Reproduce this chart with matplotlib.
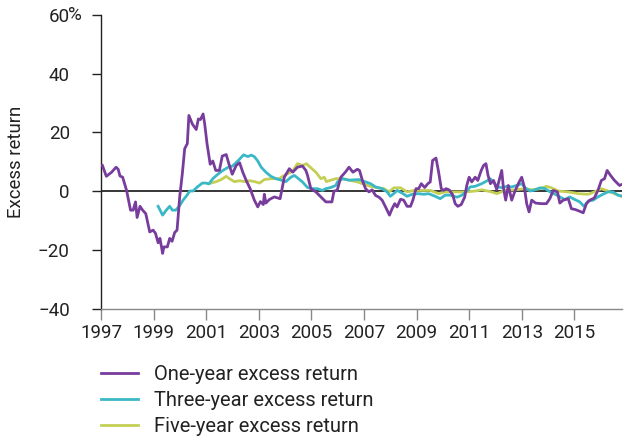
import matplotlib
matplotlib.use("Agg")
import matplotlib.pyplot as plt

plt.rcParams['font.family'] = ['Roboto', 'DejaVu Sans']

# one-year excess return (decimal year, %)
one_year_dates = [1997.05, 1997.2, 1997.4, 1997.57, 1997.65, 1997.72, 1997.82, 1997.97, 1998.12, 1998.22,
                  1998.31, 1998.37, 1998.48, 1998.58, 1998.7, 1998.85, 1998.98, 1999.07, 1999.17, 1999.24,
                  1999.34, 1999.39, 1999.52, 1999.61, 1999.7, 1999.8, 1999.89, 1999.99, 2000.09, 2000.18,
                  2000.28, 2000.34, 2000.47, 2000.62, 2000.7, 2000.78, 2000.88, 2000.94, 2001.03, 2001.15,
                  2001.25, 2001.36, 2001.5, 2001.61, 2001.76, 2001.87, 2001.99, 2002.14, 2002.27, 2002.39,
                  2002.52, 2002.67, 2002.83, 2002.96, 2003.06, 2003.17, 2003.21, 2003.27, 2003.4, 2003.59,
                  2003.81, 2003.97, 2004.16, 2004.29, 2004.47, 2004.66, 2004.79, 2004.85, 2004.98, 2005.17,
                  2005.36, 2005.55, 2005.78, 2005.86, 2005.98, 2006.12, 2006.29, 2006.43, 2006.58, 2006.75,
                  2006.83, 2006.94, 2007.06, 2007.19, 2007.31, 2007.44, 2007.57, 2007.69, 2007.82, 2007.97,
                  2008.07, 2008.17, 2008.26, 2008.39, 2008.51, 2008.64, 2008.77, 2008.86, 2008.98, 2009.08,
                  2009.18, 2009.31, 2009.43, 2009.52, 2009.61, 2009.74, 2009.84, 2009.94, 2010.03, 2010.12,
                  2010.24, 2010.37, 2010.47, 2010.57, 2010.7, 2010.83, 2010.91, 2011.0, 2011.1, 2011.23,
                  2011.33, 2011.46, 2011.55, 2011.64, 2011.72, 2011.81, 2011.93, 2012.05, 2012.17, 2012.24,
                  2012.3, 2012.39, 2012.49, 2012.62, 2012.72, 2012.87, 2013.0, 2013.1, 2013.19, 2013.28,
                  2013.38, 2013.53, 2013.75, 2013.94, 2014.07, 2014.2, 2014.36, 2014.45, 2014.58, 2014.77,
                  2014.89, 2015.04, 2015.21, 2015.34, 2015.46, 2015.59, 2015.76, 2015.9, 2016.03, 2016.15,
                  2016.25, 2016.38, 2016.53, 2016.72, 2016.8]
one_year_vals = [8.8, 5.1, 6.5, 8.2, 7.5, 5.2, 4.8, 0.3, -6.4, -6.4,
                 -3.6, -8.9, -5.1, -6.4, -7.6, -13.8, -13.2, -14.3, -17.5, -16.0,
                 -21.1, -18.9, -18.9, -16.0, -17.0, -14.0, -13.2, -1.9, 6.0, 14.5,
                 16.2, 25.8, 22.9, 21.0, 24.6, 24.4, 26.3, 23.0, 16.2, 9.2,
                 10.3, 7.1, 7.1, 12.0, 12.5, 9.1, 5.8, 8.8, 9.7, 6.5,
                 3.7, 0.9, -3.0, -5.3, -3.5, -4.5, -1.0, -4.0, -2.8, -1.9,
                 -2.5, 4.8, 7.7, 6.5, 8.2, 8.6, 7.1, 5.5, 0.9, -0.2,
                 -1.9, -3.6, -3.6, 0.1, 0.3, 4.8, 6.5, 8.2, 6.5, 7.5,
                 7.1, 3.7, 0.9, -0.2, 0.5, -1.4, -2.0, -3.0, -5.3, -8.1,
                 -5.9, -4.2, -5.3, -2.7, -3.0, -5.1, -5.1, -3.0, 0.9, 0.9,
                 2.6, 1.3, 2.6, 3.2, 10.5, 11.3, 6.5, 0.9, 0.3, 0.9,
                 0.5, -1.1, -4.2, -5.1, -4.5, -2.0, 2.0, 4.8, 3.2, 4.8,
                 3.7, 7.1, 8.8, 9.4, 5.4, 2.6, 3.7, 0.6, 4.8, 7.1,
                 1.5, -3.0, 2.0, -3.0, -0.5, 2.6, 4.8, 1.5, -4.2, -7.0,
                 -3.0, -4.0, -4.2, -4.2, -2.5, 0.3, -0.2, -4.0, -3.0, -2.5,
                 -5.9, -6.2, -6.8, -7.3, -4.2, -3.0, -2.3, 0.3, 3.7, 4.3,
                 7.1, 5.4, 3.7, 2.0, 2.3]

# three-year excess return
three_year_dates = [1999.17, 1999.34, 1999.48, 1999.61, 1999.71, 1999.84, 1999.97, 2000.12, 2000.27, 2000.37,
                    2000.5, 2000.65, 2000.85, 2001.0, 2001.1, 2001.25, 2001.44, 2001.63, 2001.82, 2002.0,
                    2002.2, 2002.42, 2002.58, 2002.71, 2002.83, 2002.96, 2003.09, 2003.27, 2003.46, 2003.65,
                    2003.85, 2004.03, 2004.22, 2004.35, 2004.51, 2004.66, 2004.85, 2005.04, 2005.23, 2005.42,
                    2005.55, 2005.74, 2005.93, 2005.99, 2006.18, 2006.43, 2006.81, 2007.06, 2007.25, 2007.44,
                    2007.69, 2007.88, 2008.0, 2008.13, 2008.26, 2008.45, 2008.64, 2008.83, 2009.08, 2009.27,
                    2009.46, 2009.71, 2009.9, 2010.09, 2010.28, 2010.54, 2010.73, 2010.91, 2011.04, 2011.23,
                    2011.48, 2011.67, 2011.8, 2011.93, 2012.05, 2012.24, 2012.43, 2012.62, 2012.81, 2013.0,
                    2013.13, 2013.32, 2013.51, 2013.7, 2013.89, 2014.08, 2014.27, 2014.45, 2014.64, 2014.83,
                    2015.02, 2015.21, 2015.37, 2015.53, 2015.72, 2015.9, 2016.09, 2016.28, 2016.47, 2016.66,
                    2016.8]
three_year_vals = [-5.1, -8.1, -6.4, -5.1, -6.4, -6.4, -5.1, -3.0, -1.3, 0.1,
                   0.1, 1.4, 2.8, 2.8, 2.5, 4.3, 5.8, 7.1, 8.1, 8.6,
                   10.3, 12.4, 11.8, 12.3, 11.8, 10.3, 8.2, 6.5, 5.1, 4.3,
                   3.8, 3.3, 4.8, 5.4, 4.3, 3.2, 1.3, 0.9, 0.9, 0.3,
                   0.9, 1.3, 2.0, 3.2, 4.3, 3.8, 4.0, 3.2, 2.6, 1.5,
                   0.9, -0.2, -1.7, -0.8, 0.3, -0.6, -1.7, -1.0, -0.8, -1.0,
                   -0.8, -1.7, -2.5, -1.3, -1.3, -2.0, -1.3, 0.1, 1.5, 1.7,
                   2.6, 3.5, 4.3, 3.2, 1.7, 1.2, 1.7, 1.5, 2.0, 2.6,
                   1.2, 0.1, 0.5, 1.2, 0.9, -0.2, -1.0, -1.9, -2.8, -1.9,
                   -2.8, -3.6, -5.1, -3.3, -3.0, -1.9, -1.0, -0.2, -0.2, -1.3,
                   -1.6]

# five-year excess return
five_year_dates = [2001.19, 2001.38, 2001.57, 2001.76, 2001.88, 2002.07, 2002.27, 2002.46, 2002.65, 2002.84,
                   2003.03, 2003.21, 2003.46, 2003.78, 2003.91, 2004.1, 2004.29, 2004.47, 2004.66, 2004.81,
                   2004.98, 2005.17, 2005.36, 2005.49, 2005.57, 2005.74, 2005.93, 2006.18, 2006.43, 2006.75,
                   2007.0, 2007.25, 2007.51, 2007.76, 2007.95, 2008.14, 2008.39, 2008.64, 2008.9, 2009.21,
                   2009.53, 2009.84, 2010.09, 2010.47, 2010.85, 2011.23, 2011.48, 2011.86, 2012.05, 2012.37,
                   2012.74, 2013.13, 2013.38, 2013.7, 2013.94, 2014.13, 2014.39, 2014.77, 2015.15, 2015.53,
                   2015.85, 2016.03, 2016.28, 2016.53, 2016.8]
five_year_vals = [2.8, 3.3, 4.0, 5.1, 4.3, 3.3, 3.6, 3.3, 3.6, 3.3,
                  2.8, 4.0, 4.3, 4.3, 5.1, 6.0, 6.9, 9.4, 8.8, 9.4,
                  8.0, 6.5, 4.3, 4.8, 3.3, 3.8, 4.3, 4.3, 3.8, 3.2,
                  2.4, 1.7, 1.2, 0.9, -0.2, 1.2, 1.2, -0.2, 0.3, 0.3,
                  0.3, -0.8, -0.2, -0.2, -0.2, 0.1, 0.5, -0.2, -0.8, 0.3,
                  0.5, 0.9, 0.5, 0.9, 1.7, 1.2, 0.1, -0.2, -0.8, -1.0,
                  0.1, 0.9, 0.1, -0.8, -1.7]

year_ticks = list(range(1997, 2017, 2))
y_ticks = [-40, -20, 0, 20, 40, 60]
y_tick_labels = ['\u221240', '\u221220', '0', '20', '40', '60']

purple = '#783c9c'
teal = '#3bb8c6'
lime = '#c4cf55'
text_color = '#222222'

fig = plt.figure(figsize=(6.24, 4.37), dpi=100)
ax = fig.add_axes([0.162, 0.293, 0.835, 0.673])

ax.axhline(0, color='black', lw=1.1, zorder=1)
ax.plot(one_year_dates, one_year_vals, color=purple, lw=2.0, label='One-year excess return', zorder=4)
ax.plot(three_year_dates, three_year_vals, color=teal, lw=2.0, label='Three-year excess return', zorder=3)
ax.plot(five_year_dates, five_year_vals, color=lime, lw=2.0, label='Five-year excess return', zorder=2)

ax.set_xlim(1997, 2016.82)
ax.set_ylim(-40, 60)
ax.set_xticks(year_ticks)
ax.set_xticklabels([str(y) for y in year_ticks])
ax.set_yticks(y_ticks)
ax.set_yticklabels(y_tick_labels)

for side in ('top', 'right'):
    ax.spines[side].set_visible(False)
ax.spines['left'].set_color('#222222')
ax.spines['bottom'].set_color('#888888')
ax.spines['left'].set_linewidth(1.0)
ax.spines['bottom'].set_linewidth(1.0)

ax.tick_params(axis='y', direction='out', length=6.5, width=1.0, color='#222222',
               labelsize=13.5, labelcolor=text_color, pad=16)
ax.tick_params(axis='x', direction='out', length=8, width=1.0, color='#888888',
               labelsize=13.5, labelcolor=text_color, pad=3)

# percent sign hangs after the top tick label
ax.annotate('%', xy=(0, 60), xycoords=('axes fraction', 'data'),
            xytext=(-23.5, 0), textcoords='offset points',
            ha='left', va='center', fontsize=13.5, color=text_color)

ax.set_ylabel('Excess return', fontsize=13.4, color=text_color)
ax.yaxis.set_label_coords(-0.146, 0.5)

handles, labels = ax.get_legend_handles_labels()
fig.legend(handles, labels, loc='upper left', bbox_to_anchor=(0.162, 0.164),
           frameon=False, fontsize=14.5, handlelength=1.84, handletextpad=0.8,
           labelspacing=0.35, borderaxespad=0, borderpad=0, labelcolor=text_color)

fig.savefig('out.png', dpi=100)
